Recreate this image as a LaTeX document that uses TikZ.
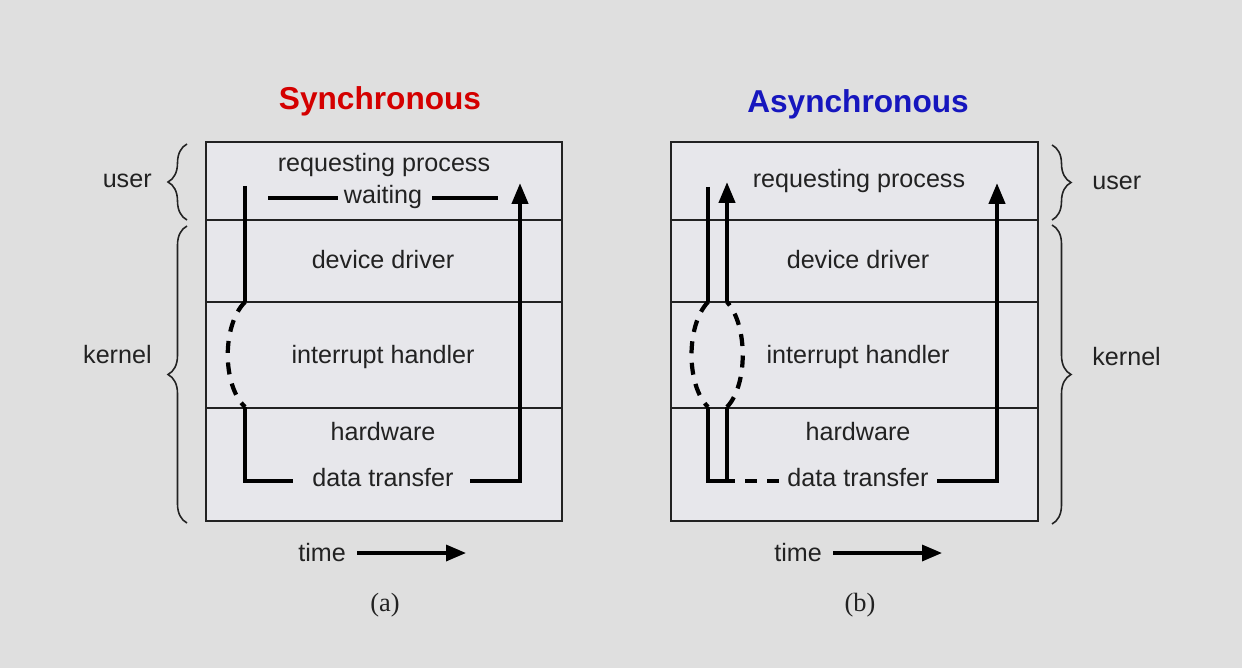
\documentclass[tikz,border=0pt]{standalone}
\usepackage{fontspec}
\setmainfont{Liberation Sans}
\newfontfamily\capfont{Liberation Serif}
\usetikzlibrary{arrows.meta,decorations.pathreplacing}
\definecolor{slidebg}{RGB}{223,223,223}
\definecolor{layerfill}{RGB}{231,231,235}
\definecolor{syncred}{RGB}{212,0,0}
\definecolor{asyncblue}{RGB}{22,22,190}
\definecolor{inkgray}{RGB}{34,34,34}

\begin{document}
\begin{tikzpicture}[x=0.2mm, y=-0.2mm]
    % Style definitions
    \tikzset{
      layer/.style={draw=inkgray, line width=1.1pt, fill=layerfill},
      sep/.style={draw=inkgray, line width=1.1pt},
      flow/.style={draw=black, line width=2.4pt},
      flowdash/.style={flow, dash pattern=on 2.4mm off 1.9mm},
      tipped/.style={-{Triangle[length=4.2mm, width=3.2mm]}},
      lbl/.style={font=\fontsize{14.3}{16}\selectfont, text=inkgray, inner sep=0pt},
      ttl/.style={font=\fontsize{18}{20}\selectfont\bfseries, inner sep=0pt},
      captxt/.style={font=\capfont\fontsize{15}{17}\selectfont, text=inkgray, inner sep=0pt},
      brc/.style={decorate, decoration={brace, amplitude=3.8mm}, draw=inkgray, line width=0.9pt},
    }
    % ------------------------------------------------------------------
    % Helper macro: one layer stack with its left edge at x=#1 and
    % width #2 (user / device driver / interrupt handler / hardware)
    % ------------------------------------------------------------------
    \newcommand{\layerstack}[2]{%
      \draw[layer] (#1,142) rectangle ++(#2,379);
      \foreach \yy in {220,302,408}{%
        \draw[sep] (#1,\yy) -- ++(#2,0);
      }%
    }

    % background, fixes the margins
    \fill[slidebg] (0,0) rectangle (1242,668);
    \useasboundingbox (0,0) rectangle (1242,668);

    % Titles
    \node[ttl, text=syncred, anchor=base] (titleA) at (380,110) {Synchronous};
    \node[ttl, text=asyncblue, anchor=base] (titleB) at (858,113) {Asynchronous};

    % Level stacks
    \layerstack{206}{356}
    \layerstack{671}{367}

    % (a) synchronous: layer texts
    \node[lbl, anchor=base] (reqA) at (384,172) {requesting process};
    \node[lbl, anchor=base] (waitA) at (383,204) {waiting};
    \node[lbl, anchor=base] (drvA) at (383,269) {device driver};
    \node[lbl, anchor=base] (intA) at (383,363) {interrupt handler};
    \node[lbl, anchor=base] (hwA) at (383,440) {hardware};
    \node[lbl, anchor=base] (dtA) at (383,486) {data transfer};

    % (a) control flow
    \coordinate (a1) at (245,186);
    \coordinate (a2) at (245,302);
    \coordinate (a3) at (245,407);
    \coordinate (a4) at (245,481);
    \coordinate (a5) at (293,481);
    \coordinate (a6) at (470,481);
    \coordinate (a7) at (520,481);
    \coordinate (a8) at (520,183);
    \coordinate (w1) at (268,198);
    \coordinate (w2) at (338,198);
    \coordinate (w3) at (432,198);
    \coordinate (w4) at (498,198);
    \draw[flow] (a1) -- (a2);
    \draw[flowdash] (a2) .. controls (222,325) and (222,385) .. (a3);
    \draw[flow] (a3) -- (a4) -- (a5);
    \draw[flow, tipped] (a6) -- (a7) -- (a8);
    \draw[flow] (w1) -- (w2);
    \draw[flow] (w3) -- (w4);

    % (b) asynchronous: layer texts
    \node[lbl, anchor=base] (reqB) at (859,188) {requesting process};
    \node[lbl, anchor=base] (drvB) at (858,269) {device driver};
    \node[lbl, anchor=base] (intB) at (858,363) {interrupt handler};
    \node[lbl, anchor=base] (hwB) at (858,440) {hardware};
    \node[lbl, anchor=base] (dtB) at (858,486) {data transfer};

    % (b) control flow: request goes down, control comes straight back
    \coordinate (b1) at (708,187);
    \coordinate (b2) at (708,302);
    \coordinate (b3) at (708,407);
    \coordinate (b4) at (708,481);
    \coordinate (c0) at (727,182);
    \coordinate (c1) at (727,302);
    \coordinate (c2) at (727,407);
    \coordinate (c3) at (727,481);
    \coordinate (d1) at (735,481);
    \coordinate (d2) at (745,481);
    \coordinate (d3) at (779,481);
    \coordinate (d4) at (937,481);
    \coordinate (d5) at (997,481);
    \coordinate (d6) at (997,183);
    \draw[flow] (b1) -- (b2);
    \draw[flowdash] (b2) .. controls (686,325) and (686,385) .. (b3);
    \draw[flow] (b3) -- (b4) -- (d1);
    \draw[flow] (c2) -- (c3);
    \draw[flowdash] (c2) .. controls (748,385) and (748,325) .. (c1);
    \draw[flow, tipped] (c1) -- (c0);
    \draw[flowdash, dash pattern=on 2.4mm off 2mm] (d2) -- (d3);
    \draw[flow, tipped] (d4) -- (d5) -- (d6);

    % Braces: user / kernel
    \draw[brc] (187,220) -- (187,144);
    \draw[brc] (187,523) -- (187,226);
    \draw[brc] (1052,145) -- (1052,220);
    \draw[brc] (1052,225) -- (1052,524);
    \node[lbl, anchor=base east] (userL) at (152,188) {user};
    \node[lbl, anchor=base east] (kernL) at (152,363) {kernel};
    \node[lbl, anchor=base west] (userR) at (1092,190) {user};
    \node[lbl, anchor=base west] (kernR) at (1092,365) {kernel};

    % time axis and captions
    \node[lbl, anchor=base west] (timeA) at (298,561) {time};
    \node[lbl, anchor=base west] (timeB) at (774,561) {time};
    \coordinate (tA0) at (357,553);
    \coordinate (tA1) at (466,553);
    \coordinate (tB0) at (833,553);
    \coordinate (tB1) at (942,553);
    \draw[line width=1.9pt, -{Triangle[length=4mm, width=3.2mm]}] (tA0) -- (tA1);
    \draw[line width=1.9pt, -{Triangle[length=4mm, width=3.2mm]}] (tB0) -- (tB1);
    \node[captxt, anchor=base] (capA) at (385,611) {(a)};
    \node[captxt, anchor=base] (capB) at (860,611) {(b)};
  \end{tikzpicture}
\end{document}
